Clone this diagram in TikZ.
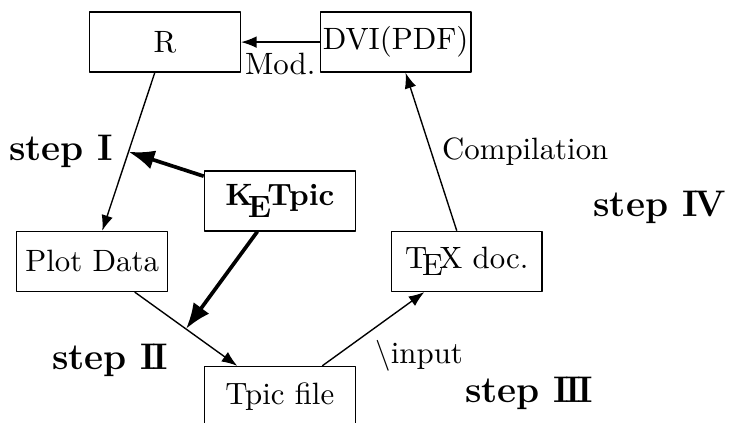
\documentclass[tikz,border=0pt]{standalone}
\usetikzlibrary{arrows.meta,calc,positioning}
\newcommand{\KETpic}{K\kern-.1667em\lower.9ex\hbox{E}\kern-.125em Tpic}
\begin{document}
\begin{tikzpicture}[line join=round, >={Latex}, line width=0.45pt,
  box/.style={draw, minimum width=1.72cm, minimum height=0.684cm, inner sep=0pt},
  thickarrow/.style={->, line width=1.2pt},
  steplabel/.style={font=\large\bfseries}]
\useasboundingbox (0,0) rectangle (8.31,-4.82);
% boxes
\node[box] (R) at (1.88,-0.48) {R};
\node[box] (DVI) at (4.51,-0.48) {DVI(PDF)};
\node[box] (KE) at (3.19,-2.29) {\bfseries\KETpic};
\node[box] (Plot) at (1.05,-2.98) {Plot Data};
\node[box] (TeX) at (5.32,-2.98) {\TeX\ doc.};
\node[box] (Tpic) at (3.19,-4.52) {Tpic file};
\path ($(R)!0.5!(Plot)$) coordinate (sI) ($(Plot)!0.5!(Tpic)$) coordinate (sII);
% connectors
\draw[->] (DVI) -- node[below]{Mod.} (R);
\draw[->] (R) -- (Plot);
\draw[->] (Plot) -- (Tpic);
\draw[->] (Tpic) -- node[below right, xshift=-1mm]{$\backslash$input} (TeX);
\draw[->] (TeX) -- node[right]{Compilation} (DVI);
\draw[thickarrow] (KE) -- (sI);
\draw[thickarrow] (KE) -- (sII);
% steps
\node[steplabel, left, xshift=-0.5mm] (stepI) at (sI) {step I};
\node[steplabel, below left=0.5mm and 0.8mm] (stepII) at (sII) {step I\kern-1.2pt I};
\node[steplabel] (stepIII) at (6.03,-4.48) {step I\kern-1.2pt I\kern-1.2pt I};
\node[steplabel] (stepIV) at (7.52,-2.36) {step I\kern-1pt V};
\end{tikzpicture}
\end{document}
